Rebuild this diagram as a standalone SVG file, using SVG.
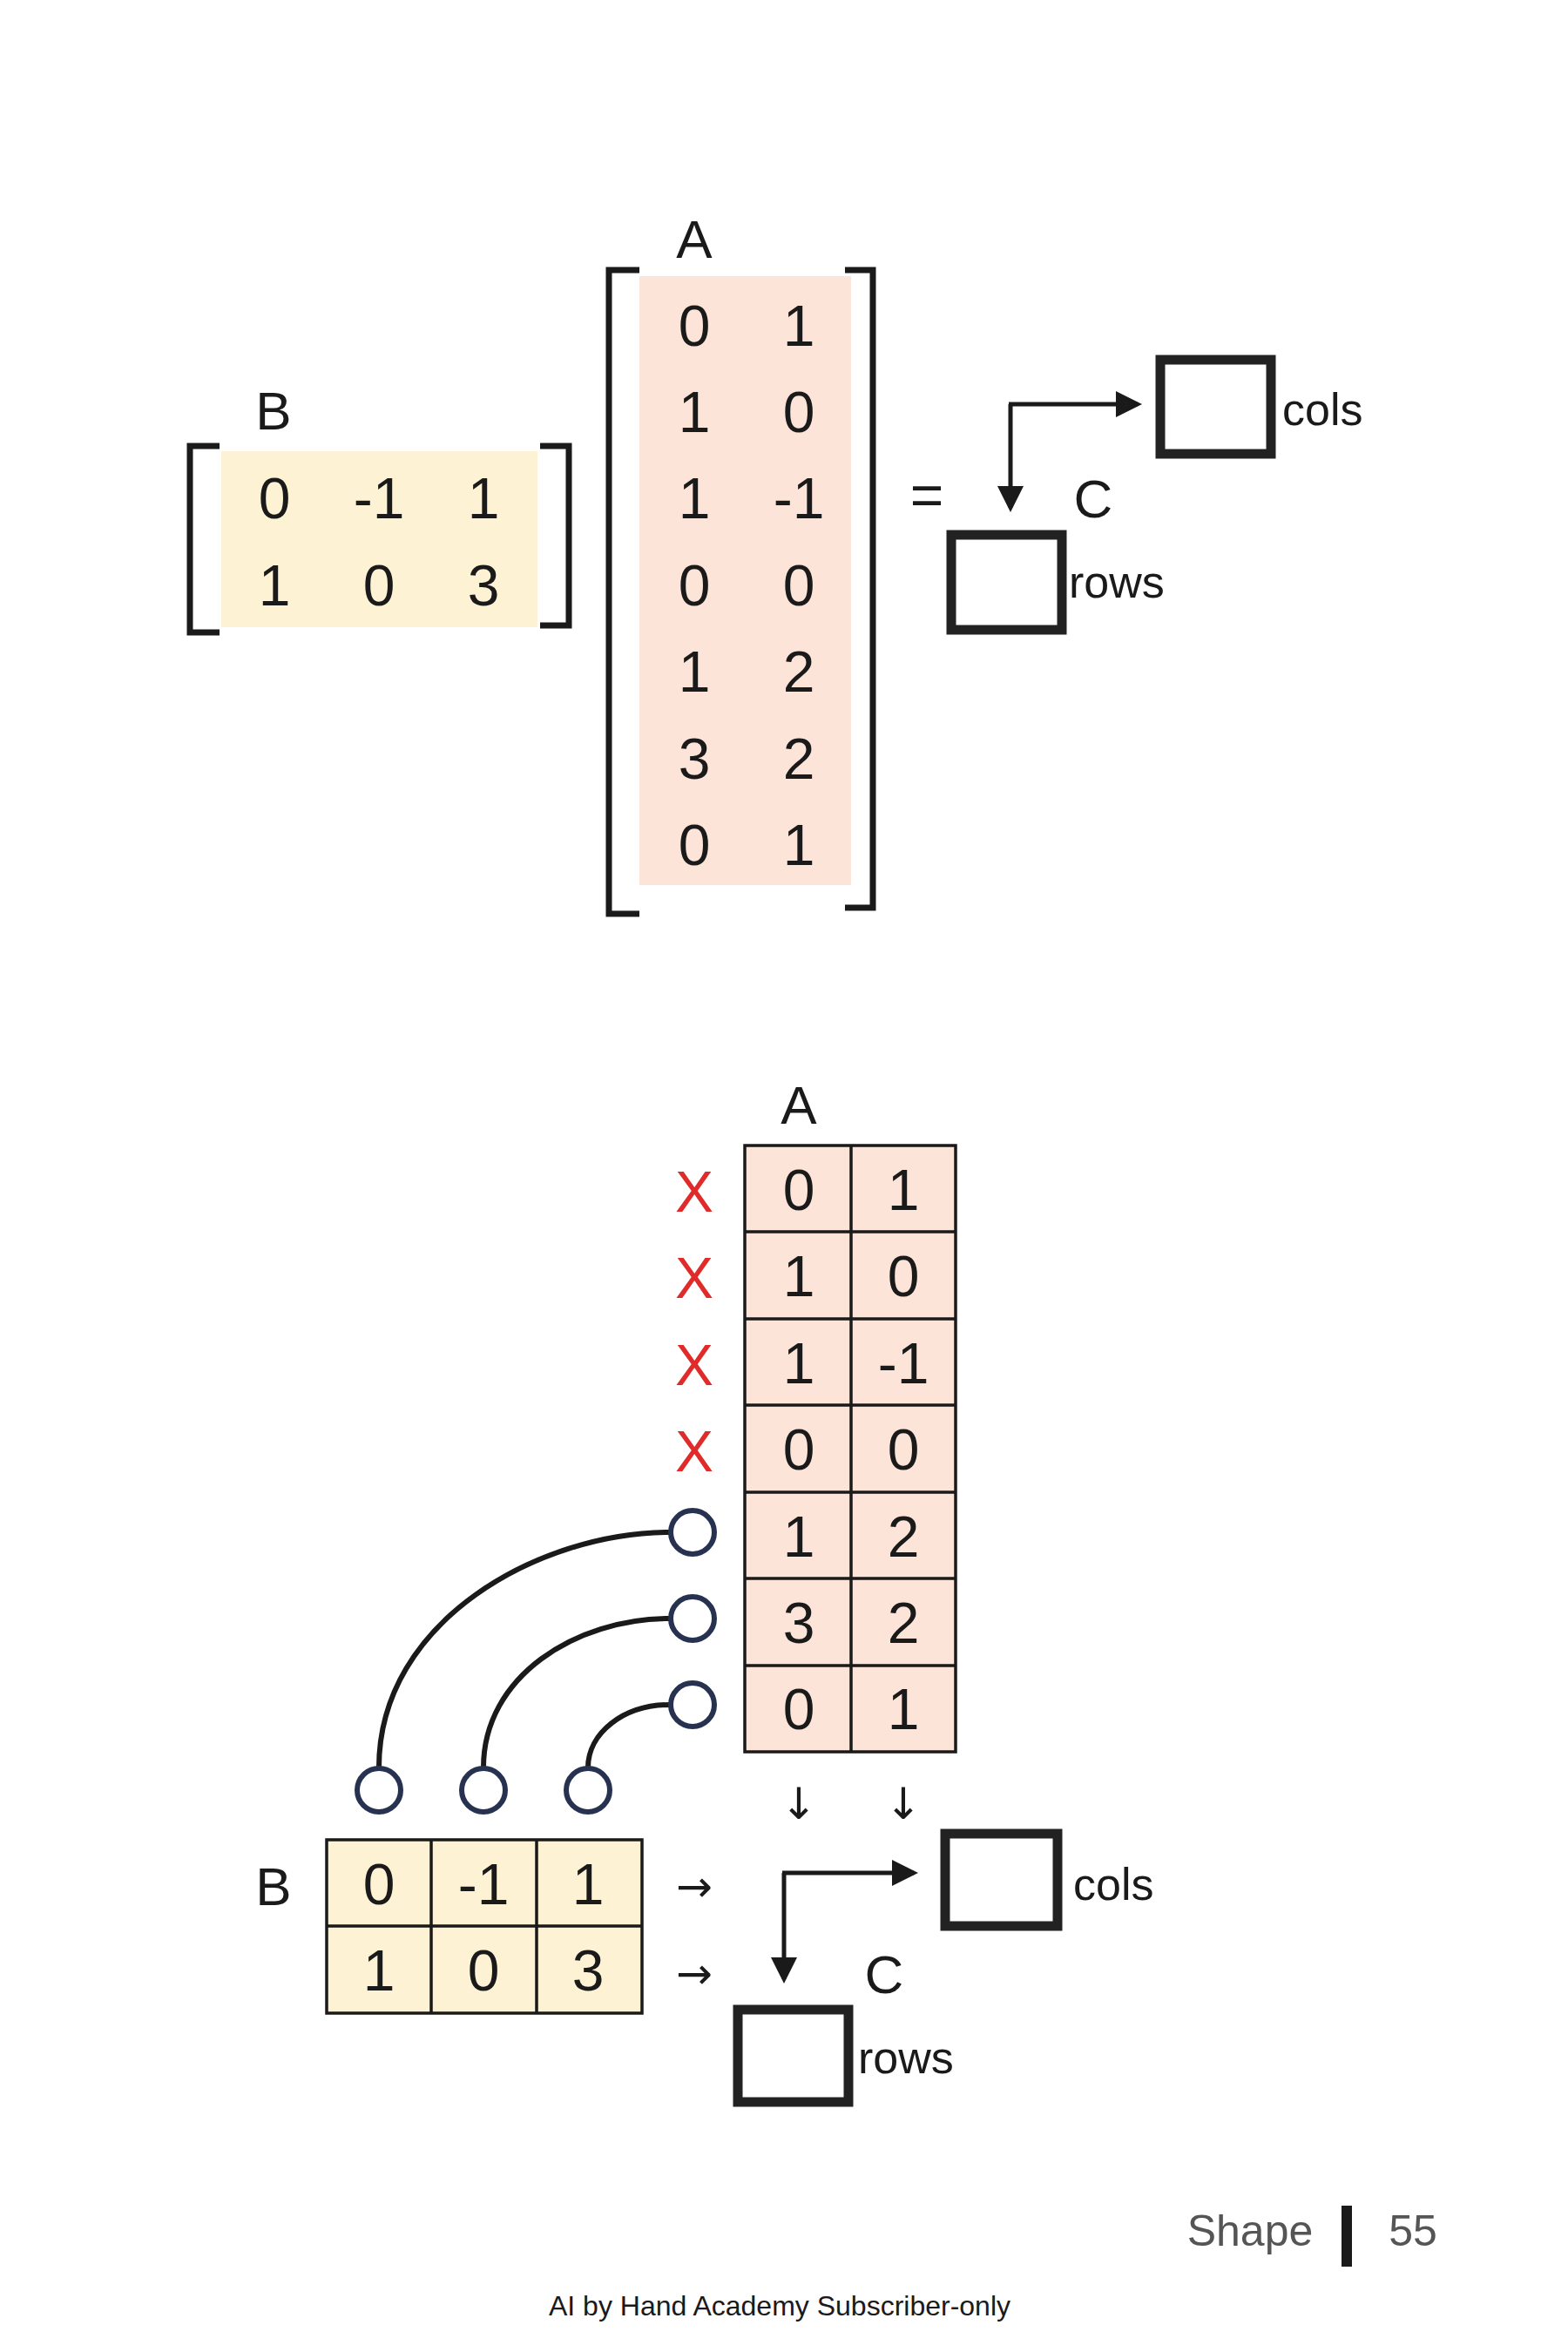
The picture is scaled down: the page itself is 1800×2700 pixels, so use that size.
<svg xmlns="http://www.w3.org/2000/svg" width="1800" height="2700" viewBox="0 0 1800 2700">
<style>
text{font-family:"Liberation Sans",Arial,sans-serif;fill:#1a1a1a;text-anchor:middle;dominant-baseline:central}
.n{font-size:66px}
.lbl{font-size:62px}
.w{font-size:52px;text-anchor:start}
.x{fill:#e02b2b;font-size:66px}
.br{fill:none;stroke:#1a1a1a;stroke-width:7}
.box{fill:#fff;stroke:#222;stroke-width:11}
.cell{stroke:#1a1a1a;stroke-width:3.5}
.ln{fill:none;stroke:#1a1a1a;stroke-width:6}
.cir{fill:#fff;stroke:#26324f;stroke-width:6}
.ar{fill:none;stroke:#1a1a1a;stroke-width:5}
</style>
<defs>
<marker id="ah" markerWidth="6" markerHeight="6" refX="5" refY="3" orient="auto" markerUnits="strokeWidth"><path d="M0,0 L6,3 L0,6 Z" fill="#1a1a1a"/></marker>
</defs>
<rect width="1800" height="2700" fill="#fff"/>

<g id="top-B">
<text class="lbl" x="314" y="471">B</text>
<rect x="254" y="518" width="363" height="202" fill="#fdf2d3"/>
<path class="br" d="M252,512 H218 V726 H252"/>
<path class="br" d="M620,512 H653 V718 H620"/>
<text class="n" x="315" y="572">0</text><text class="n" x="435" y="572">-1</text><text class="n" x="555" y="572">1</text>
<text class="n" x="315" y="672">1</text><text class="n" x="435" y="672">0</text><text class="n" x="555" y="672">3</text>
</g>

<g id="top-A">
<text class="lbl" x="797" y="274">A</text>
<rect x="734" y="317" width="243" height="699" fill="#fde4d8"/>
<path class="br" d="M734,310 H699 V1049 H734"/>
<path class="br" d="M970,310 H1002 V1042 H970"/>
<text class="n" x="797" y="374">0</text><text class="n" x="917" y="374">1</text>
<text class="n" x="797" y="473">1</text><text class="n" x="917" y="473">0</text>
<text class="n" x="797" y="572">1</text><text class="n" x="917" y="572">-1</text>
<text class="n" x="797" y="672">0</text><text class="n" x="917" y="672">0</text>
<text class="n" x="797" y="771">1</text><text class="n" x="917" y="771">2</text>
<text class="n" x="797" y="871">3</text><text class="n" x="917" y="871">2</text>
<text class="n" x="797" y="970">0</text><text class="n" x="917" y="970">1</text>
</g>

<g id="top-C">
<text class="n" x="1064" y="568">=</text>
<text class="lbl" x="1255" y="572">C</text>
<rect class="box" x="1332" y="413" width="127" height="108"/>
<text class="w" x="1472" y="470">cols</text>
<rect class="box" x="1092" y="614" width="127" height="109"/>
<text class="w" x="1227" y="668">rows</text>
</g>

<g id="bot-A">
<text class="lbl" x="917" y="1268">A</text>
<rect x="855" y="1315" width="242" height="696" fill="#fde4d8" class="cell"/>
<path class="cell" d="M977,1315 V2011 M855,1414 H1097 M855,1514 H1097 M855,1613 H1097 M855,1713 H1097 M855,1812 H1097 M855,1912 H1097"/>
<text class="n" x="917" y="1366">0</text><text class="n" x="1037" y="1366">1</text>
<text class="n" x="917" y="1465">1</text><text class="n" x="1037" y="1465">0</text>
<text class="n" x="917" y="1565">1</text><text class="n" x="1037" y="1565">-1</text>
<text class="n" x="917" y="1664">0</text><text class="n" x="1037" y="1664">0</text>
<text class="n" x="917" y="1764">1</text><text class="n" x="1037" y="1764">2</text>
<text class="n" x="917" y="1863">3</text><text class="n" x="1037" y="1863">2</text>
<text class="n" x="917" y="1962">0</text><text class="n" x="1037" y="1962">1</text>
<text class="x" x="797" y="1368">X</text>
<text class="x" x="797" y="1467">X</text>
<text class="x" x="797" y="1567">X</text>
<text class="x" x="797" y="1666">X</text>
</g>

<g id="bot-B">
<text class="lbl" x="314" y="2165">B</text>
<rect x="375" y="2112" width="362" height="199" fill="#fdf2d3" class="cell"/>
<path class="cell" d="M495,2112 V2311 M616,2112 V2311 M375,2211 H737"/>
<text class="n" x="435" y="2163">0</text><text class="n" x="555" y="2163">-1</text><text class="n" x="675" y="2163">1</text>
<text class="n" x="435" y="2262">1</text><text class="n" x="555" y="2262">0</text><text class="n" x="675" y="2262">3</text>
</g>

<g id="connectors">
<path class="ln" d="M435,2029 C435,1860 620,1759 769,1759"/>
<path class="ln" d="M555,2029 C555,1925 660,1858 769,1858"/>
<path class="ln" d="M675,2029 C675,1990 715,1957 769,1957"/>
<circle class="cir" cx="795" cy="1759" r="25"/>
<circle class="cir" cx="795" cy="1858" r="25"/>
<circle class="cir" cx="795" cy="1957" r="25"/>
<circle class="cir" cx="435" cy="2055" r="25"/>
<circle class="cir" cx="555" cy="2055" r="25"/>
<circle class="cir" cx="675" cy="2055" r="25"/>
<path class="ar" d="M1160,464 V583" marker-end="url(#ah)"/>
<path class="ar" d="M1158,464 H1306" marker-end="url(#ah)"/>
<path class="ar" d="M900,2150 V2272" marker-end="url(#ah)"/>
<path class="ar" d="M898,2150 H1049" marker-end="url(#ah)"/>
</g>

<g id="bot-C">
<text class="n" x="917" y="2071" style="font-family:'DejaVu Sans',sans-serif;font-size:50px">↓</text>
<text class="n" x="1037" y="2071" style="font-family:'DejaVu Sans',sans-serif;font-size:50px">↓</text>
<text class="n" x="797" y="2166" style="font-family:'DejaVu Sans',sans-serif;font-size:50px">→</text>
<text class="n" x="797" y="2266" style="font-family:'DejaVu Sans',sans-serif;font-size:50px">→</text>
<text class="lbl" x="1015" y="2266">C</text>
<rect class="box" x="1085" y="2105" width="129" height="106"/>
<text class="w" x="1232" y="2163">cols</text>
<rect class="box" x="847" y="2307" width="127" height="106"/>
<text class="w" x="985" y="2362">rows</text>
</g>

<g id="footer">
<text x="1435" y="2561" style="font-size:50px;fill:#555">Shape</text>
<rect x="1540" y="2532" width="12" height="70" fill="#1a1a1a"/>
<text x="1622" y="2561" style="font-size:50px;fill:#555">55</text>
<text x="895" y="2647" style="font-size:32px">AI by Hand Academy Subscriber-only</text>
</g>
</svg>
